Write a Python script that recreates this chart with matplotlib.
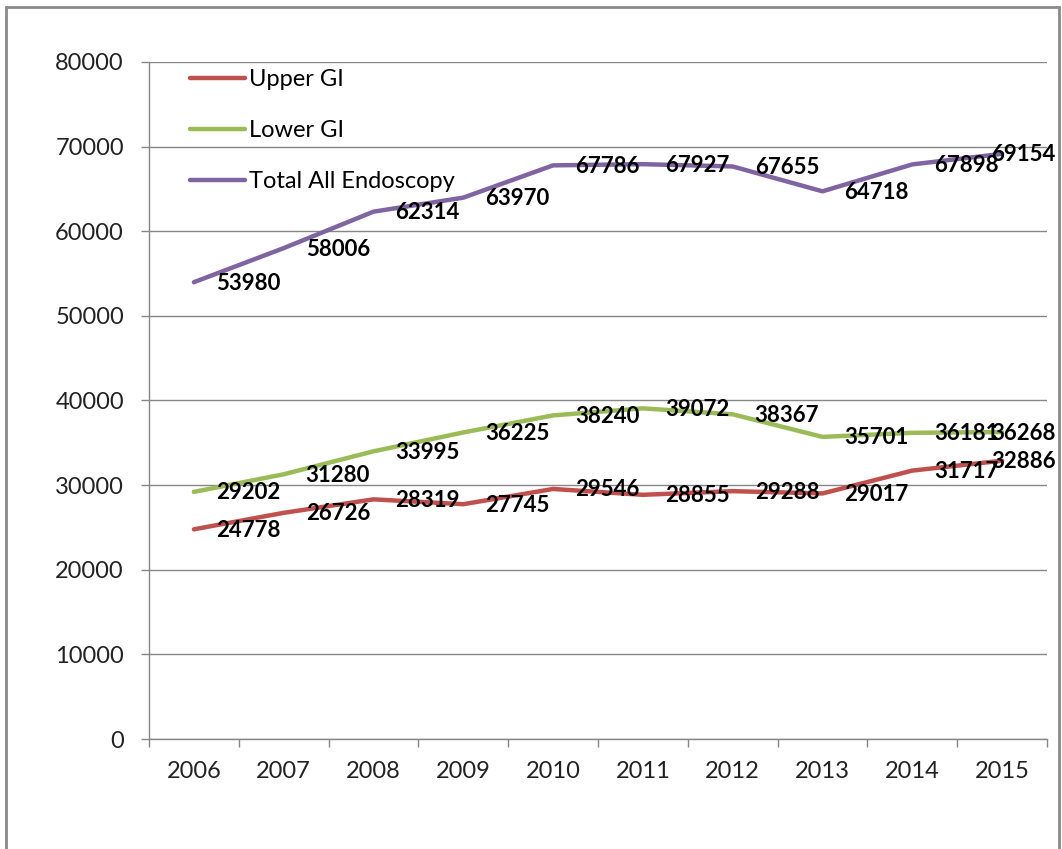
import matplotlib.pyplot as plt
from matplotlib.patches import Rectangle

years = ["2006", "2007", "2008", "2009", "2010", "2011", "2012", "2013", "2014", "2015"]
upper_gi = [24778, 26726, 28319, 27745, 29546, 28855, 29288, 29017, 31717, 32886]
lower_gi = [29202, 31280, 33995, 36225, 38240, 39072, 38367, 35701, 36181, 36268]
total_all = [53980, 58006, 62314, 63970, 67786, 67927, 67655, 64718, 67898, 69154]

series = [
    ("Upper GI", upper_gi, "#C0504D"),
    ("Lower GI", lower_gi, "#9BBB59"),
    ("Total All Endoscopy", total_all, "#8064A2"),
]

plt.rcParams['font.family'] = ['Lato', 'DejaVu Sans']

fig = plt.figure(figsize=(10.62, 8.49), dpi=100)
ax = fig.add_axes([149 / 1062, 110 / 849, 898 / 1062, 677 / 849])

# outer chart border
fig.patches.append(Rectangle((6 / 1062, -0.02), 1053 / 1062, 1 - 7 / 849 + 0.02,
                             transform=fig.transFigure, fill=False,
                             edgecolor="#8a8a8a", linewidth=2))

x = list(range(len(years)))
for name, vals, col in series:
    ax.plot(x, vals, color=col, linewidth=3.2, solid_joinstyle="round",
            solid_capstyle="round", label=name, zorder=3)
    for i, v in enumerate(vals):
        dx = -11 if i == len(vals) - 1 else 22
        ax.annotate(str(v), (i, v), xytext=(dx, -1), textcoords="offset pixels",
                    ha="left", va="center", fontsize=16, fontweight="bold",
                    color="black", zorder=4)

ax.set_xlim(-0.5, 9.5)
ax.set_ylim(0, 80000)
ax.set_yticks(range(0, 80001, 10000))
ax.set_xticks(x)
ax.set_xticklabels(years)
ax.set_xticks([i - 0.5 for i in range(len(years) + 1)], minor=True)
ax.tick_params(axis="x", which="major", length=0, pad=16, labelsize=17, colors="#222222")
ax.tick_params(axis="x", which="minor", length=6, width=1, color="#868686", direction="out")
ax.tick_params(axis="y", length=6, width=1, color="#868686", direction="out",
               pad=12, labelsize=17, labelcolor="#222222")

ax.grid(axis="y", color="#868686", linewidth=1)
ax.set_axisbelow(True)
for s in ["top", "right"]:
    ax.spines[s].set_visible(False)
for s in ["left", "bottom"]:
    ax.spines[s].set_color("#868686")
    ax.spines[s].set_linewidth(1)

ax.legend(loc="upper left", bbox_to_anchor=(0.0225, 1.021), frameon=False,
          fontsize=17, handlelength=2.3, handletextpad=0.2, labelspacing=1.27)

fig.savefig("out.png", dpi=100)
